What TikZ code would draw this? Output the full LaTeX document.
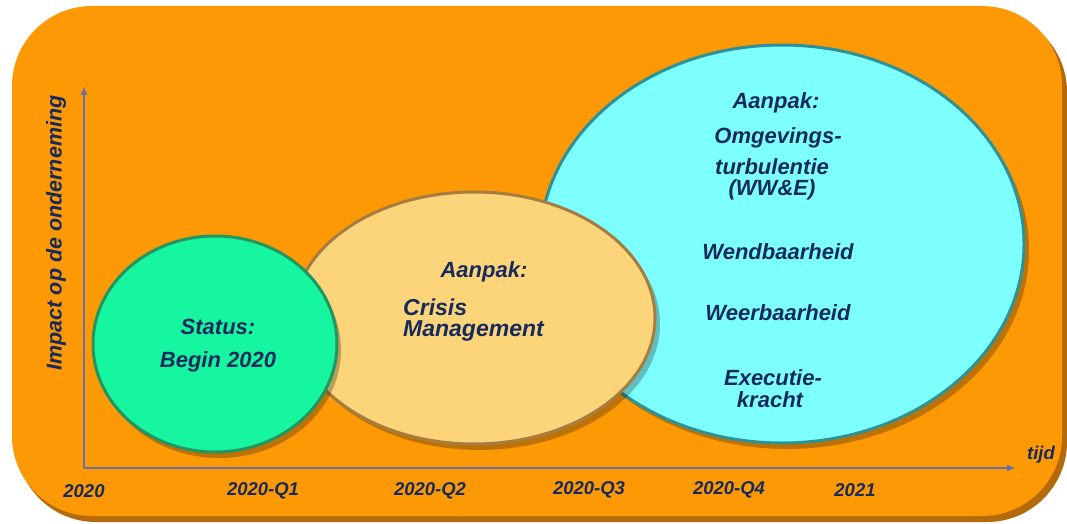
\documentclass[tikz,border=0pt]{standalone}
\usepackage{fontspec}
\setmainfont{Liberation Sans}
\usetikzlibrary{arrows.meta}
\definecolor{bgor}{RGB}{254,153,6}
\definecolor{bgsh}{RGB}{180,105,10}
\definecolor{grfill}{RGB}{22,245,160}
\definecolor{grline}{RGB}{35,150,95}
\definecolor{yefill}{RGB}{252,212,122}
\definecolor{yeline}{RGB}{165,125,65}
\definecolor{cyfill}{RGB}{125,255,255}
\definecolor{cyline}{RGB}{45,145,150}
\definecolor{txt}{RGB}{22,42,92}
\definecolor{axc}{RGB}{105,112,168}
\tikzset{
  lbl/.style={text=txt,font=\fontsize{22}{24}\selectfont\bfseries\itshape,inner sep=0pt},
  axl/.style={text=txt,font=\fontsize{18.5}{20}\selectfont\bfseries\itshape,inner sep=0pt},
  axis/.style={draw=axc,line width=2pt,-{Latex[length=9pt,width=7pt]}},
  shadowc/.style={fill=black,opacity=0.25}
}
\begin{document}
\begin{tikzpicture}[x=1pt,y=-1pt]
\useasboundingbox (0,0) rectangle (1067,524);
% background panel
\fill[bgsh,rounded corners=80pt] (16,12) rectangle (1067,522);
\fill[bgor,rounded corners=80pt] (12,6) rectangle (1062,516);
% cyan ellipse
\fill[shadowc] (787,250) ellipse [x radius=242pt,y radius=199pt];
\draw[cyline,line width=3pt,fill=cyfill] (782,244) ellipse [x radius=242pt,y radius=199pt];
% yellow ellipse
\fill[shadowc] (479,324) ellipse [x radius=181pt,y radius=126pt];
\draw[yeline,line width=3pt,fill=yefill] (474,318) ellipse [x radius=181pt,y radius=126pt];
% green ellipse
\fill[shadowc] (219,350) ellipse [x radius=122pt,y radius=108pt];
\draw[grline,line width=3pt,fill=grfill] (215,344) ellipse [x radius=122pt,y radius=108pt];
% axes
\coordinate (O) at (84,468);
\coordinate (ytop) at (84,86);
\coordinate (xend) at (1016,468);
\draw[axis] (O) -- (ytop);
\draw[axis] (O) -- (xend);
\node[lbl,rotate=90,font=\fontsize{21.5}{23}\selectfont\bfseries\itshape] (ylab) at (56,233) {Impact op de onderneming};
\node[axl] (tijd) at (1041,455) {tijd};
\node[axl] (t0) at (84,491) {2020};
\node[axl] (t1) at (263,491) {2020-Q1};
\node[axl] (t2) at (430,491) {2020-Q2};
\node[axl] (t3) at (589,490) {2020-Q3};
\node[axl] (t4) at (729,490) {2020-Q4};
\node[axl] (t5) at (855,490) {2021};
% green text
\node[lbl] (g1) at (218,327) {Status:};
\node[lbl] (g2) at (218,362) {Begin 2020};
% yellow text
\node[lbl] (y1) at (484,272) {Aanpak:};
\node[lbl,anchor=west,font=\fontsize{23}{24}\selectfont\bfseries\itshape] (y2) at (403,307) {Crisis};
\node[lbl,anchor=west,font=\fontsize{23}{24}\selectfont\bfseries\itshape] (y3) at (403,331) {Management};
% cyan text
\node[lbl] (c1) at (776,103) {Aanpak:};
\node[lbl] (c2) at (778,138) {Omgevings-};
\node[lbl] (c3) at (772,167) {turbulentie};
\node[lbl] (c4) at (772,190) {(WW\&E)};
\node[lbl] (c5) at (778,252) {Wendbaarheid};
\node[lbl] (c6) at (778,313) {Weerbaarheid};
\node[lbl] (c7) at (773,378) {Executie-};
\node[lbl] (c8) at (770,400) {kracht};
\end{tikzpicture}
\end{document}
